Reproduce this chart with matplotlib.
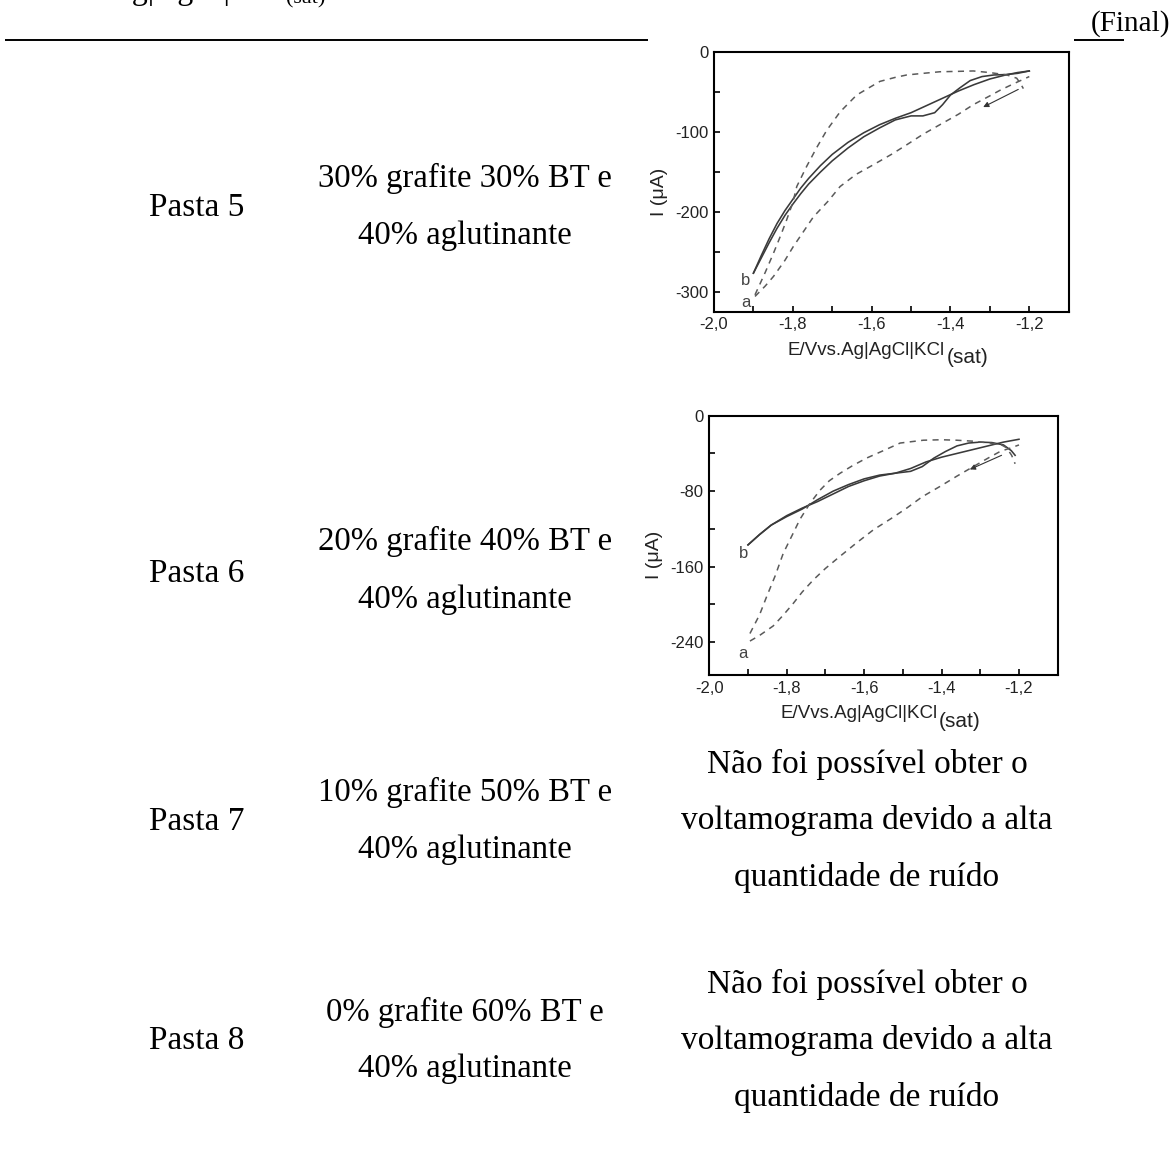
import matplotlib.pyplot as plt
from matplotlib.ticker import MultipleLocator, FuncFormatter

plt.rcParams['font.family'] = ['Liberation Sans', 'DejaVu Sans']
SERIF = ['Liberation Serif', 'DejaVu Serif']

W, H = 1172, 1150

# table contents
paste_names = ["Pasta 5", "Pasta 6", "Pasta 7", "Pasta 8"]
composition_line1 = ["30% grafite 30% BT e", "20% grafite 40% BT e",
                     "10% grafite 50% BT e", "0% grafite 60% BT e"]
composition_line2 = ["40% aglutinante"] * 4
no_voltammogram = ["Não foi possível obter o", "voltamograma devido a alta",
                   "quantidade de ruído"]

# Pasta 5 voltammograms (E in V, I in uA)
p5_b_smooth_E = [-1.90, -1.88, -1.86, -1.84, -1.82, -1.80, -1.78, -1.76, -1.73, -1.70,
                 -1.66, -1.62, -1.58, -1.54, -1.50, -1.46, -1.42, -1.38, -1.34, -1.30,
                 -1.26, -1.23, -1.20]
p5_b_smooth_I = [-276, -254, -233, -214, -198, -184, -170, -158, -142, -128,
                 -113, -101, -91, -83, -76, -67, -58, -49, -41, -34,
                 -29, -26, -24]
p5_b_wavy_E = [-1.90, -1.88, -1.86, -1.84, -1.82, -1.80, -1.78, -1.76, -1.73, -1.70,
               -1.66, -1.62, -1.58, -1.54, -1.50, -1.47, -1.44, -1.42, -1.40, -1.376,
               -1.35, -1.32, -1.29, -1.26, -1.23, -1.20]
p5_b_wavy_I = [-276, -257, -238, -220, -204, -190, -177, -165, -150, -136,
               -120, -106, -95, -85, -80, -80, -76, -66, -54, -45,
               -36, -31, -29, -28.5, -27, -24]
p5_a_upper_E = [-1.896, -1.87, -1.849, -1.83, -1.816, -1.80, -1.79, -1.765, -1.74, -1.714,
                -1.68, -1.638, -1.60, -1.579, -1.54, -1.511, -1.47, -1.427, -1.38, -1.342,
                -1.30, -1.257, -1.232, -1.222, -1.215]
p5_a_upper_I = [-303, -275, -251, -228, -210, -188, -168, -143, -120, -98,
                -75, -54, -43, -37, -32, -29, -27, -25, -24.5, -24,
                -26, -29, -33, -40, -46]
p5_a_lower_E = [-1.896, -1.87, -1.849, -1.82, -1.799, -1.77, -1.748, -1.71, -1.68, -1.64,
                -1.596, -1.55, -1.511, -1.47, -1.427, -1.38, -1.342, -1.30, -1.274, -1.24,
                -1.20]
p5_a_lower_I = [-305, -292, -280, -260, -243, -222, -206, -186, -168, -153,
                -141, -128, -116, -103, -91, -78, -66, -55, -48, -40,
                -31]

# Pasta 6 voltammograms (E in V, I in uA)
p6_b_smooth_E = [-1.90, -1.87, -1.84, -1.80, -1.76, -1.72, -1.68, -1.64, -1.60, -1.56,
                 -1.52, -1.48, -1.44, -1.40, -1.36, -1.32, -1.28, -1.24, -1.20]
p6_b_smooth_I = [-137, -126, -116, -106, -98, -91, -83, -75, -69, -64,
                 -61, -56, -49, -44, -40, -36, -32, -28, -25]
p6_b_wavy_E = [-1.90, -1.87, -1.84, -1.80, -1.76, -1.72, -1.68, -1.64, -1.60, -1.56,
               -1.52, -1.48, -1.45, -1.42, -1.39, -1.36, -1.33, -1.30, -1.27, -1.24,
               -1.22, -1.21]
p6_b_wavy_I = [-137, -126, -116, -107, -99, -89, -80, -73, -67, -63,
               -61, -59, -54, -45, -38, -32, -29, -28, -28.5, -31,
               -37, -42]
p6_a_upper_E = [-1.895, -1.87, -1.852, -1.83, -1.809, -1.785, -1.766, -1.74, -1.714, -1.69,
                -1.662, -1.63, -1.594, -1.55, -1.507, -1.447, -1.40, -1.361, -1.32, -1.275,
                -1.245, -1.232, -1.219, -1.21]
p6_a_upper_I = [-231, -211, -192, -170, -146, -126, -110, -93, -79, -69,
                -61, -53, -45, -37, -29, -26, -25.5, -26, -27, -29,
                -31, -34, -42, -51]
p6_a_lower_E = [-1.895, -1.87, -1.835, -1.81, -1.783, -1.76, -1.731, -1.70, -1.662, -1.62,
                -1.576, -1.53, -1.49, -1.45, -1.404, -1.36, -1.318, -1.28, -1.249, -1.22,
                -1.20]
p6_a_lower_I = [-239, -233, -223, -212, -199, -187, -174, -162, -149, -135,
                -121, -109, -98, -86, -75, -64, -54, -45, -38, -34,
                -31]

fig = plt.figure(figsize=(W / 100, H / 100), dpi=100)

# page layer in pixel coordinates
page = fig.add_axes([0, 0, 1, 1])
page.set_xlim(0, W)
page.set_ylim(H, 0)
page.axis('off')

# caption line running off the top edge of the page
page.text(283, -1, "vs. Ag|AgCl|KCl", ha='right', va='baseline',
          fontsize=23, family=SERIF)
page.text(286, 3, "(sat)", ha='left', va='baseline', fontsize=16, family=SERIF)

page.plot([5, 648], [40, 40], color='black', lw=1.4, solid_capstyle='butt')
page.plot([1074, 1124], [40, 40], color='black', lw=1.4, solid_capstyle='butt')
page.text(1170, 31, "(Final)", ha='right', va='baseline', fontsize=21, family=SERIF)

name_y = [216, 582, 830, 1049]
comp_y = [(187, 244), (550, 608), (801, 858), (1021, 1077)]
for name, l1, l2, y, (y1, y2) in zip(paste_names, composition_line1,
                                     composition_line2, name_y, comp_y):
    page.text(197, y, name, ha='center', va='baseline', fontsize=24, family=SERIF)
    page.text(465, y1, l1, ha='center', va='baseline', fontsize=23.6, family=SERIF)
    page.text(465, y2, l2, ha='center', va='baseline', fontsize=23.6, family=SERIF)

for top in (773, 993):
    for k, line in enumerate(no_voltammogram):
        page.text(867, top + 56.5 * k, line, ha='center', va='baseline',
                  fontsize=24, family=SERIF)


def voltammogram(rect, ybottom, ystep, solids, dashes, lab_b, lab_a, arrow, ylab_y):
    ax = fig.add_axes(rect)
    for E, I in solids:
        ax.plot(E, I, color='#3a3a3a', lw=1.15)
    for E, I in dashes:
        ax.plot(E, I, color='#5a5a5a', lw=1.1, ls=(0, (4, 3.5)))
    ax.text(*lab_b, 'b', fontsize=12, color='#444', ha='center', va='center')
    ax.text(*lab_a, 'a', fontsize=12, color='#444', ha='center', va='center')
    ax.annotate('', xy=arrow[1], xytext=arrow[0],
                arrowprops=dict(arrowstyle='-|>', color='#333', lw=0.8,
                                mutation_scale=8, shrinkA=0, shrinkB=0))

    ax.set_xlim(-2.0, -1.1)
    ax.set_ylim(ybottom, 0)
    ax.xaxis.set_major_locator(MultipleLocator(0.2))
    ax.xaxis.set_minor_locator(MultipleLocator(0.1))
    ax.yaxis.set_major_locator(MultipleLocator(ystep))
    ax.yaxis.set_minor_locator(MultipleLocator(ystep / 2))
    ax.xaxis.set_major_formatter(FuncFormatter(lambda v, _: f"{v:.1f}".replace('.', ',')))
    ax.yaxis.set_major_formatter(FuncFormatter(lambda v, _: f"{int(round(v))}"))
    ax.tick_params(which='both', direction='in', length=4, width=1.2,
                   top=False, right=False, labelsize=12, labelcolor='#222', pad=4)
    for s in ax.spines.values():
        s.set_linewidth(1.5)

    ax.set_ylabel("I (μA)", fontsize=14, labelpad=5, color='#222')
    ax.yaxis.label.set_y(ylab_y)
    ax.set_xlabel("E/Vvs.Ag|AgCl|KCl", fontsize=13.5, labelpad=7, color='#222')
    ax.xaxis.label.set_x(0.43)
    ax.annotate("(sat)", xy=(1, 0), xycoords=ax.xaxis.label,
                xytext=(1, -6), textcoords='offset points',
                ha='left', va='bottom', fontsize=15, color='#222')
    return ax


voltammogram([714 / W, 1 - 311.7 / H, 354.7 / W, 260 / H], -324, 100,
             [(p5_b_smooth_E, p5_b_smooth_I), (p5_b_wavy_E, p5_b_wavy_I)],
             [(p5_a_upper_E, p5_a_upper_I), (p5_a_lower_E, p5_a_lower_I)],
             (-1.919, -285), (-1.919, -312),
             ((-1.228, -47), (-1.317, -69)), 0.46)

voltammogram([709.3 / W, 1 - 675 / H, 348.4 / W, 259.3 / H], -275, 80,
             [(p6_b_smooth_E, p6_b_smooth_I), (p6_b_wavy_E, p6_b_wavy_I)],
             [(p6_a_upper_E, p6_a_upper_I), (p6_a_lower_E, p6_a_lower_I)],
             (-1.912, -146), (-1.912, -252),
             ((-1.245, -42), (-1.327, -57)), 0.465)

fig.savefig('out.png', dpi=100)
